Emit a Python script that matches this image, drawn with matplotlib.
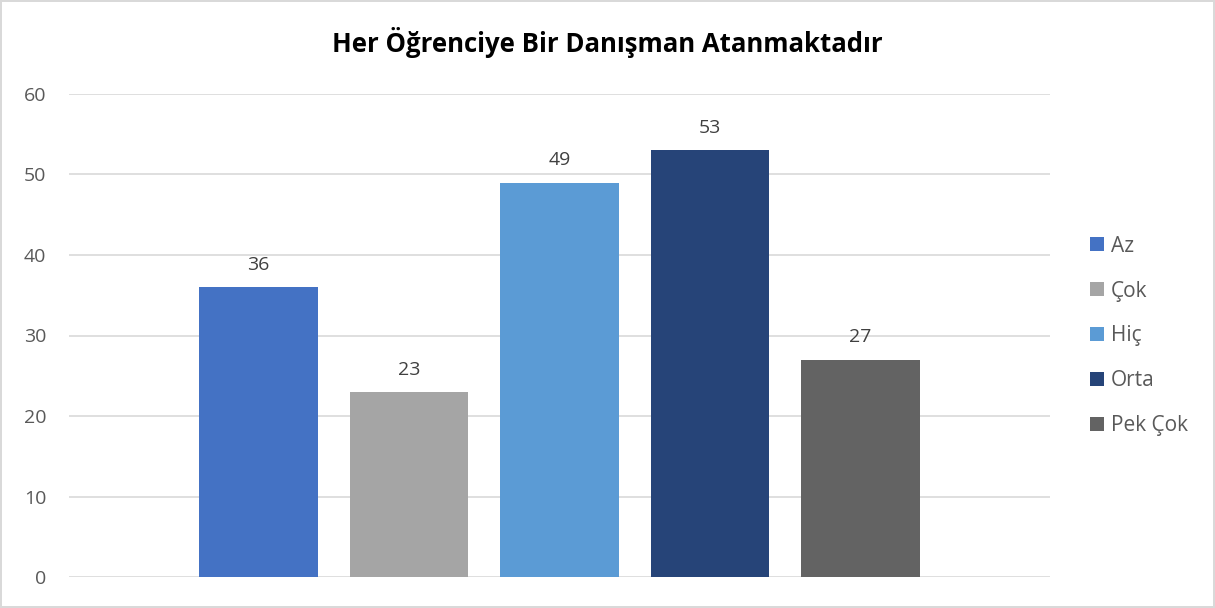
import matplotlib.pyplot as plt
import numpy as np

plt.rcParams['font.family'] = ['Open Sans', 'DejaVu Sans']

# data
categories = ["Az", "Çok", "Hiç", "Orta", "Pek Çok"]
values = [36, 23, 49, 53, 27]
colors = ["#4472C4", "#A5A5A5", "#5B9BD5", "#264478", "#636363"]
yticks = [0, 10, 20, 30, 40, 50, 60]
title = "Her Öğrenciye Bir Danışman Atanmaktadır"

W, H = 1215, 608
fig = plt.figure(figsize=(W / 100, H / 100), dpi=100)
fig.patch.set_edgecolor("#D9D9D9")
fig.patch.set_linewidth(1.5)
ax = fig.add_axes([69/W, (H-577)/H, (1050-69)/W, (577-94)/H])

x = np.arange(len(values)) - (len(values) - 1) / 2
for i in range(len(values)):
    b = ax.bar(x[i], values[i], width=0.79, color=colors[i], label=categories[i], zorder=3)
    ax.bar_label(b, padding=9.5, fontsize=14, color="#404040")

ax.set_xlim(-3.26, 3.26)
ax.set_ylim(0, 60)
ax.set_yticks(yticks)
ax.set_xticks([])
ax.grid(axis="y", color="#D9D9D9", linewidth=1.2, zorder=0)
for s in ax.spines.values():
    s.set_visible(False)
ax.tick_params(axis="y", length=0, pad=16.5, labelsize=14, labelcolor="#595959")

fig.text(0.5, 1 - 43/H, title, ha="center", va="center", fontsize=18.5, fontweight="bold", color="black")

leg = fig.legend(loc="center left", bbox_to_anchor=(1090/W, 1 - 336/H), frameon=False,
                 fontsize=15, labelspacing=1.15, handlelength=0.67, handleheight=0.67,
                 handletextpad=0.35, borderpad=0, borderaxespad=0)
for t in leg.get_texts():
    t.set_color("#595959")

fig.savefig("out.png", dpi=100, edgecolor=fig.get_edgecolor())
